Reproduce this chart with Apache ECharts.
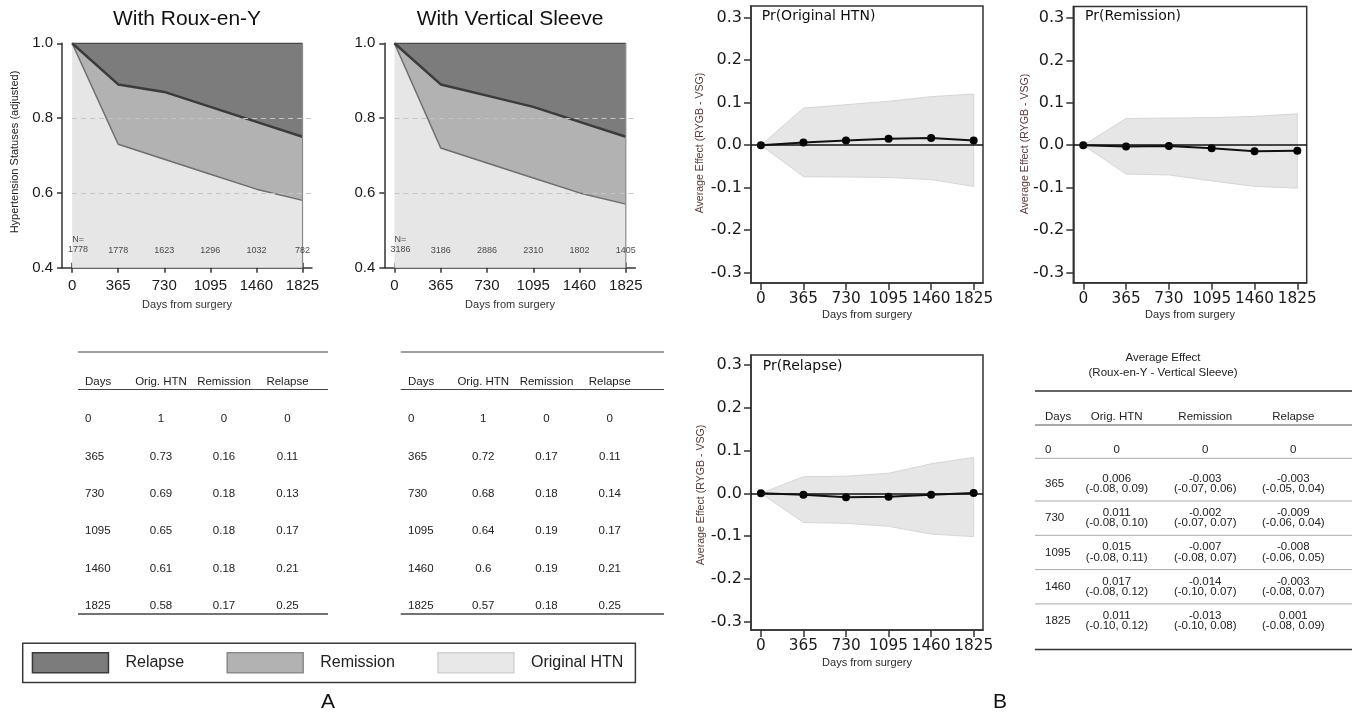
<!DOCTYPE html>
<html><head><meta charset="utf-8">
<script src="https://cdn.jsdelivr.net/npm/echarts@6/dist/echarts.min.js"></script>
<style>html,body{margin:0;padding:0;background:#fff}#c{width:1360px;height:713px}</style>
</head><body><div id="c"></div>
<script>
// ---------- data ----------
const days = [0, 365, 730, 1095, 1460, 1825];
const dayTicks = [0, 365, 730, 1095, 1460, 1825];
const yTicksA = [0.4, 0.6, 0.8, 1.0];
const yTicksB = [-0.3, -0.2, -0.1, 0, 0.1, 0.2, 0.3];
const gridlinesA = [0.8, 0.6];

// Panel A: adjusted hypertension statuses
const rygbOrig = [1, 0.73, 0.69, 0.65, 0.61, 0.58];
const rygbRem  = [0, 0.16, 0.18, 0.18, 0.18, 0.17];
const rygbRel  = [0, 0.11, 0.13, 0.17, 0.21, 0.25];
const vsgOrig  = [1, 0.72, 0.68, 0.64, 0.6, 0.57];
const vsgRem   = [0, 0.17, 0.18, 0.19, 0.19, 0.18];
const vsgRel   = [0, 0.11, 0.14, 0.17, 0.21, 0.25];
const rygbN = [1778, 1778, 1623, 1296, 1032, 782];
const vsgN  = [3186, 3186, 2886, 2310, 1802, 1405];

// Panel B: average effect (RYGB - VSG)
const effOrig = [0, 0.006, 0.011, 0.015, 0.017, 0.011];
const effRem  = [0, -0.003, -0.002, -0.007, -0.014, -0.013];
const effRel  = [0, -0.003, -0.009, -0.008, -0.003, 0.001];
const ciOrig = ['', '(-0.08, 0.09)', '(-0.08, 0.10)', '(-0.08, 0.11)', '(-0.08, 0.12)', '(-0.10, 0.12)'];
const ciRem  = ['', '(-0.07, 0.06)', '(-0.07, 0.07)', '(-0.08, 0.07)', '(-0.10, 0.07)', '(-0.10, 0.08)'];
const ciRel  = ['', '(-0.05, 0.04)', '(-0.06, 0.04)', '(-0.06, 0.05)', '(-0.08, 0.07)', '(-0.08, 0.09)'];
// confidence bands as drawn in the plots
const bandOrigLo = [0, -0.074, -0.075, -0.076, -0.081, -0.097];
const bandOrigHi = [0, 0.087, 0.095, 0.103, 0.114, 0.120];
const bandRemLo  = [0, -0.068, -0.070, -0.084, -0.097, -0.101];
const bandRemHi  = [0, 0.063, 0.064, 0.065, 0.068, 0.074];
const bandRelLo  = [0, -0.068, -0.070, -0.077, -0.095, -0.101];
const bandRelHi  = [0, 0.039, 0.040, 0.047, 0.069, 0.084];

// ---------- helpers ----------
const LIB = 'Liberation Sans';
const DJV = 'DejaVu Sans';
const zip = (xs, ys) => xs.map((x, i) => [x, ys[i]]);
const A_XMIN = -80, A_XMAX = 1900, A_YMIN = 0.4, A_YMAX = 1.0;
const B_XMIN = -85, B_XMAX = 1905;
const C_REL = '#7c7c7c', C_REM = '#b2b2b2', C_ORIG = '#e6e6e6';

function xAxesA(g) {
  return [
    { type: 'value', gridIndex: g, position: 'bottom', min: A_XMIN, max: A_XMAX,
      axisLine: { show: true, onZero: false, lineStyle: { color: '#333', width: 1.5 } },
      axisTick: { show: true, customValues: dayTicks, length: 5, lineStyle: { color: '#333', width: 1.5 } },
      axisLabel: { customValues: dayTicks, formatter: v => String(v), hideOverlap: false,
        margin: 11, fontSize: 15, fontFamily: LIB, color: '#1a1a1a' },
      splitLine: { show: false } },
    { type: 'value', gridIndex: g, position: 'bottom', min: A_XMIN, max: A_XMAX,
      axisLine: { show: false, onZero: false },
      axisTick: { show: true, inside: true, customValues: dayTicks, length: 5, lineStyle: { color: '#333', width: 1.5 } },
      axisLabel: { show: false }, splitLine: { show: false } }
  ];
}
function yAxisA(g) {
  return { type: 'value', gridIndex: g, min: A_YMIN, max: A_YMAX,
    axisLine: { show: true, onZero: false, lineStyle: { color: '#333', width: 1.5 } },
    axisTick: { show: true, customValues: yTicksA, length: 5, lineStyle: { color: '#333', width: 1.5 } },
    axisLabel: { customValues: yTicksA, formatter: v => v.toFixed(1), margin: 9, fontSize: 15, fontFamily: LIB, color: '#1a1a1a' },
    splitLine: { show: false } };
}
function xAxisB(g) {
  return { type: 'value', gridIndex: g, min: B_XMIN, max: B_XMAX,
    axisLine: { show: true, onZero: false, lineStyle: { color: '#333', width: 1.5 } },
    axisTick: { show: true, customValues: dayTicks, length: 7, lineStyle: { color: '#333', width: 1.5 } },
    axisLabel: { customValues: dayTicks, formatter: v => String(v), hideOverlap: false,
      margin: 9, fontSize: 15.3, fontFamily: DJV, color: '#1a1a1a' },
    splitLine: { show: false } };
}
function yAxisB(g, mn, mx) {
  return { type: 'value', gridIndex: g, min: mn, max: mx,
    axisLine: { show: true, onZero: false, lineStyle: { color: '#333', width: 1.5 } },
    axisTick: { show: true, customValues: yTicksB, length: 7, lineStyle: { color: '#333', width: 1.5 } },
    axisLabel: { customValues: yTicksB, formatter: v => v.toFixed(1), hideOverlap: false,
      margin: 9, fontSize: 16, fontFamily: DJV, color: '#1a1a1a' },
    splitLine: { show: false } };
}

// polygon between two boundary arrays, drawn through the axis scales
function regionRenderer(lo, hi, fill, stroke) {
  return function (params, api) {
    if (params.dataIndex !== 0) return null;
    const pts = [];
    for (let i = 0; i < days.length; i++) pts.push(api.coord([days[i], hi[i]]));
    for (let i = days.length - 1; i >= 0; i--) pts.push(api.coord([days[i], lo[i]]));
    return { type: 'polygon', shape: { points: pts },
      style: { fill: fill, stroke: stroke || null, lineWidth: stroke ? 1 : 0 } };
  };
}

function seriesA(xi, yi, orig, rem, rel, nArr, tag) {
  const last = days.length - 1;
  const base = days.map(() => A_YMIN);
  const upRem = orig.map((v, i) => v + rem[i]);          // top of remission band
  const upRel = upRem.map((v, i) => v + rel[i]);         // top of relapse band
  const region = (name, lo, hi, fill, z) => ({
    name, type: 'custom', xAxisIndex: xi, yAxisIndex: yi, silent: true, z,
    itemStyle: { color: fill },
    data: days.map((d, i) => [d, lo[i], hi[i]]),
    renderItem: regionRenderer(lo, hi, fill)
  });
  const line = (name, vals, color, width) => ({
    name, type: 'line', xAxisIndex: xi, yAxisIndex: yi, silent: true, z: 4,
    data: zip(days, vals), symbol: 'none', lineStyle: { color, width }, itemStyle: { color } });
  return [
    region('Original HTN', base, orig, C_ORIG, 1),
    region('Remission', orig, upRem, C_REM, 1),
    { name: tag + '-grid', type: 'line', xAxisIndex: xi, yAxisIndex: yi, silent: true, z: 2,
      data: [], symbol: 'none',
      markLine: { silent: true, symbol: 'none', label: { show: false }, animation: false,
        lineStyle: { type: [5, 4], color: '#c4c4c4', width: 1 },
        data: gridlinesA.map(v => [{ coord: [0, v] }, { coord: [A_XMAX, v] }]) } },
    region('Relapse', upRem, upRel, C_REL, 3),
    line(tag + '-origLine', orig, '#6e6e6e', 1.5),
    line(tag + '-remLine', upRem, '#3b3b3b', 2.5),
    line(tag + '-relLine', upRel, '#4a4a4a', 1.5),
    { name: tag + '-edge', type: 'line', xAxisIndex: xi, yAxisIndex: yi, silent: true, z: 4,
      data: [[days[last], A_YMIN], [days[last], upRel[last]]], symbol: 'none',
      lineStyle: { color: '#8a8a8a', width: 1.2 } },
    { name: tag + '-N', type: 'scatter', xAxisIndex: xi, yAxisIndex: yi, silent: true, z: 6,
      symbolSize: 0,
      data: days.map((d, i) => {
        const item = { value: [d, 0.447] };
        if (i === 0) item.label = { formatter: 'N=\n' + nArr[0], offset: [6, -6] };
        return item;
      }),
      label: { show: true, position: 'inside', formatter: p => String(nArr[p.dataIndex]),
        fontSize: 9, lineHeight: 10, fontFamily: LIB, color: '#222' } }
  ];
}

function seriesB(xi, yi, eff, lo, hi, tag) {
  return [
    { name: tag + '-band', type: 'custom', xAxisIndex: xi, yAxisIndex: yi, silent: true, z: 1,
      data: days.map((d, i) => [d, lo[i], hi[i]]), renderItem: regionRenderer(lo, hi, '#e6e6e6', '#d6d6d6') },
    { name: tag + '-eff', type: 'line', xAxisIndex: xi, yAxisIndex: yi, silent: true, z: 3,
      data: zip(days, eff), symbol: 'circle', symbolSize: 8,
      lineStyle: { color: '#111', width: 2 }, itemStyle: { color: '#000' },
      markLine: { silent: true, symbol: 'none', label: { show: false },
        lineStyle: { color: '#111', width: 1.5, type: 'solid' }, data: [{ yAxis: 0 }] } }
  ];
}

// ---------- graphic (text and tables) ----------
const G = [];
function txt(x, y, text, o) {
  o = o || {};
  G.push({ type: 'text', x, y, rotation: o.rot || 0, silent: true, z: 10,
    style: { text, fill: o.color || '#222', fontSize: o.size || 11.5, fontFamily: o.font || LIB,
      align: o.align || 'center', verticalAlign: 'middle' } });
}
function hline(x1, x2, y, color, w) {
  G.push({ type: 'line', silent: true, z: 10, shape: { x1, y1: y, x2, y2: y },
    style: { stroke: color, lineWidth: w } });
}

// titles
txt(187, 19, 'With Roux-en-Y', { size: 21, color: '#111' });
txt(510, 19, 'With Vertical Sleeve', { size: 21, color: '#111' });
txt(15, 152, 'Hypertension Statuses (adjusted)', { size: 11, rot: Math.PI / 2, color: '#222' });
txt(187, 305, 'Days from surgery', { size: 11, color: '#333' });
txt(510, 305, 'Days from surgery', { size: 11, color: '#333' });

// B panel texts
txt(761.7, 16.7, 'Pr(Original HTN)', { size: 14, font: DJV, align: 'left', color: '#111' });
txt(1085, 16.7, 'Pr(Remission)', { size: 14, font: DJV, align: 'left', color: '#111' });
txt(762.7, 366.7, 'Pr(Relapse)', { size: 14, font: DJV, align: 'left', color: '#111' });
const yTitleB = 'Average Effect (RYGB - VSG)';
txt(700, 143, yTitleB, { size: 10.6, rot: Math.PI / 2, color: '#5a3c3c' });
txt(1025, 144, yTitleB, { size: 10.6, rot: Math.PI / 2, color: '#5a3c3c' });
txt(700.7, 495, yTitleB, { size: 10.6, rot: Math.PI / 2, color: '#5a3c3c' });
txt(867, 315, 'Days from surgery', { size: 11, color: '#2a2a2a' });
txt(1190, 315, 'Days from surgery', { size: 11, color: '#2a2a2a' });
txt(867, 663.3, 'Days from surgery', { size: 11, color: '#2a2a2a' });

// Table A
const headA = ['Days', 'Orig. HTN', 'Remission', 'Relapse'];
function tableA(x1, x2, cx, orig, rem, rel) {
  hline(x1, x2, 352, '#444', 1.2);
  txt(cx[0], 382, headA[0], { align: 'left' });
  txt(cx[1], 382, headA[1]);
  txt(cx[2], 382, headA[2]);
  txt(cx[3], 382, headA[3]);
  hline(x1, x2, 389.5, '#444', 1.2);
  days.forEach((d, i) => {
    const y = 419 + i * 37.4;
    txt(cx[0], y, String(d), { align: 'left' });
    txt(cx[1], y, String(orig[i]));
    txt(cx[2], y, String(rem[i]));
    txt(cx[3], y, String(rel[i]));
  });
  hline(x1, x2, 614, '#444', 1.5);
}
tableA(78, 328, [85, 161, 224, 287.5], rygbOrig, rygbRem, rygbRel);
tableA(400.7, 664, [408, 483.3, 546.5, 609.8], vsgOrig, vsgRem, vsgRel);

// Table B
txt(1163, 358.3, 'Average Effect');
txt(1163, 373.3, '(Roux-en-Y - Vertical Sleeve)');
hline(1035, 1352, 391, '#333', 1.5);
const colB = [1045, 1116.7, 1205.2, 1293.3];
txt(colB[0], 417.3, 'Days', { align: 'left' });
txt(colB[1], 417.3, 'Orig. HTN');
txt(colB[2], 417.3, 'Remission');
txt(colB[3], 417.3, 'Relapse');
hline(1035, 1352, 425, '#555', 1.2);
days.forEach((d, i) => {
  if (i === 0) {
    txt(colB[0], 450, String(d), { align: 'left' });
    txt(colB[1], 450, String(effOrig[0]));
    txt(colB[2], 450, String(effRem[0]));
    txt(colB[3], 450, String(effRel[0]));
    hline(1035, 1352, 458.3, '#aaa', 1);
    return;
  }
  const c = 484 + (i - 1) * 34.3;
  txt(colB[0], c, String(d), { align: 'left' });
  txt(colB[1], c - 5.5, effOrig[i].toFixed(3));
  txt(colB[1], c + 5, ciOrig[i]);
  txt(colB[2], c - 5.5, effRem[i].toFixed(3));
  txt(colB[2], c + 5, ciRem[i]);
  txt(colB[3], c - 5.5, effRel[i].toFixed(3));
  txt(colB[3], c + 5, ciRel[i]);
  if (i < days.length - 1) hline(1035, 1352, c + 17, '#aaa', 1);
});
hline(1035, 1352, 649.5, '#333', 1.5);

// panel letters
txt(328, 702, 'A', { size: 21, color: '#111' });
txt(1000, 702, 'B', { size: 21, color: '#111' });

// ---------- chart ----------
const chart = echarts.init(document.getElementById('c'), null, { renderer: 'canvas' });
chart.setOption({
  animation: false,
  backgroundColor: '#fff',
  grid: [
    { left: 62, top: 43.3, width: 250, height: 224.4 },
    { left: 384.3, top: 43.3, width: 251, height: 224.4 },
    { left: 751, top: 6, width: 232, height: 277, show: true, borderColor: '#333', borderWidth: 1.5 },
    { left: 1073.3, top: 6.5, width: 233.4, height: 276.2, show: true, borderColor: '#333', borderWidth: 1.5 },
    { left: 751, top: 355, width: 232, height: 275, show: true, borderColor: '#333', borderWidth: 1.5 }
  ],
  xAxis: [...xAxesA(0), ...xAxesA(1), xAxisB(2), xAxisB(3), xAxisB(4)],
  yAxis: [yAxisA(0), yAxisA(1), yAxisB(2, -0.324, 0.327), yAxisB(3, -0.324, 0.327), yAxisB(4, -0.319, 0.323)],
  legend: {
    left: 22.7, top: 643.3, orient: 'horizontal', selectedMode: false,
    padding: [8.7, 12, 9, 9], itemGap: 42.3, itemWidth: 76, itemHeight: 20,
    borderColor: '#3a3a3a', borderWidth: 1.5, backgroundColor: '#fff',
    icon: 'rect',
    textStyle: { fontSize: 16, fontFamily: LIB, color: '#222', padding: [0, 0, 0, 12] },
    data: [
      { name: 'Relapse', icon: 'rect', itemStyle: { color: C_REL, borderColor: '#3a3a3a', borderWidth: 1.5 } },
      { name: 'Remission', icon: 'rect', itemStyle: { color: C_REM, borderColor: '#8a8a8a', borderWidth: 1.5 } },
      { name: 'Original HTN', icon: 'rect', itemStyle: { color: '#e8e8e8', borderColor: '#d2d2d2', borderWidth: 1.5 } }
    ]
  },
  series: [
    ...seriesA(0, 0, rygbOrig, rygbRem, rygbRel, rygbN, 'rygb'),
    ...seriesA(2, 1, vsgOrig, vsgRem, vsgRel, vsgN, 'vsg'),
    ...seriesB(4, 2, effOrig, bandOrigLo, bandOrigHi, 'b1'),
    ...seriesB(5, 3, effRem, bandRemLo, bandRemHi, 'b2'),
    ...seriesB(6, 4, effRel, bandRelLo, bandRelHi, 'b3')
  ],
  graphic: G
});
</script>
</body></html>
